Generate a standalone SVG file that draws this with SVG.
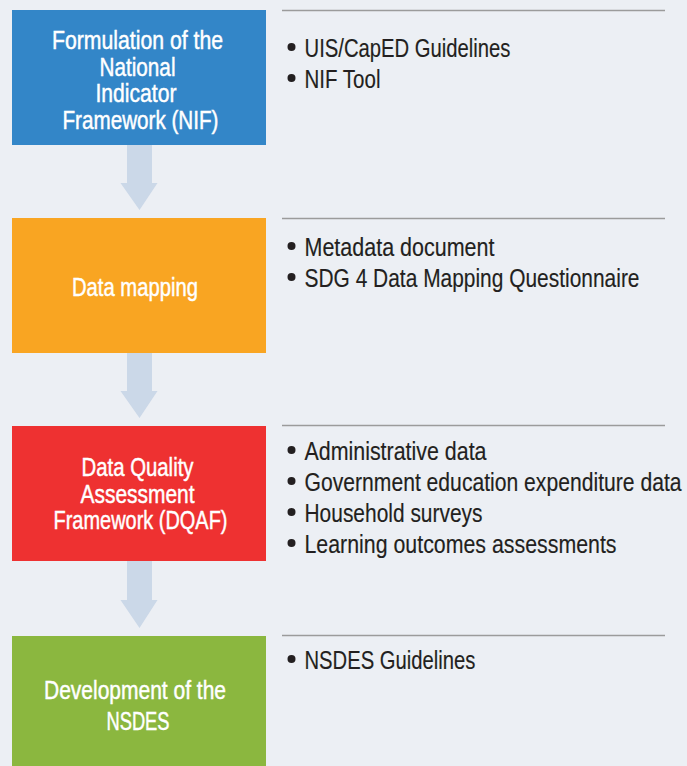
<svg xmlns="http://www.w3.org/2000/svg" width="687" height="766" viewBox="0 0 687 766">
<style>
  .bg { fill: #ECEFF4; }
  .bt { font-family: "Liberation Sans", Arial, sans-serif; font-size: 25px; fill: #FFFFFF; stroke: #FFFFFF; stroke-width: 0.45; text-anchor: middle; }
  .lt { font-family: "Liberation Sans", Arial, sans-serif; font-size: 25px; fill: #231F20; stroke: #231F20; stroke-width: 0.15; }
  .rule { stroke: #9B9B9B; stroke-width: 1.5; fill: none; }
  .dot { fill: #231F20; }
  .arrow { fill: #CBD8E8; }
</style>
<rect class="bg" x="0" y="0" width="687" height="766"/>

<g id="connectors">
  <path class="arrow" d="M127,145 H152 V183 H157.5 L139.5,210 L120.5,183 H127 Z"/>
  <path class="arrow" d="M127,353 H152 V391 H157.5 L139.5,418 L120.5,391 H127 Z"/>
  <path class="arrow" d="M127,561 H152 V600 H157.5 L139.5,628 L120.5,600 H127 Z"/>
</g>

<g id="node-nif">
  <rect x="12" y="10" width="254" height="135" fill="#3386C8"/>
  <text class="bt" x="137.5" y="49" textLength="171" lengthAdjust="spacingAndGlyphs">Formulation of the</text>
  <text class="bt" x="137.5" y="75.5" textLength="76" lengthAdjust="spacingAndGlyphs">National</text>
  <text class="bt" x="136" y="102" textLength="81" lengthAdjust="spacingAndGlyphs">Indicator</text>
  <text class="bt" x="140.5" y="128.5" textLength="156" lengthAdjust="spacingAndGlyphs">Framework (NIF)</text>
</g>

<g id="node-mapping">
  <rect x="12" y="218" width="254" height="135" fill="#F9A522"/>
  <text class="bt" x="135" y="296" textLength="126" lengthAdjust="spacingAndGlyphs">Data mapping</text>
</g>

<g id="node-dqaf">
  <rect x="12" y="426" width="254" height="135" fill="#EE3131"/>
  <text class="bt" x="137.5" y="476" textLength="112" lengthAdjust="spacingAndGlyphs">Data Quality</text>
  <text class="bt" x="137.5" y="502.5" textLength="114" lengthAdjust="spacingAndGlyphs">Assessment</text>
  <text class="bt" x="140.5" y="529" textLength="174" lengthAdjust="spacingAndGlyphs">Framework (DQAF)</text>
</g>

<g id="node-nsdes">
  <rect x="12" y="636" width="254" height="135" fill="#8BB73F"/>
  <text class="bt" x="135" y="699" textLength="182" lengthAdjust="spacingAndGlyphs">Development of the</text>
  <text class="bt" x="138" y="730" textLength="63" lengthAdjust="spacingAndGlyphs">NSDES</text>
</g>

<g id="list-nif">
  <line class="rule" x1="282" y1="10.5" x2="665" y2="10.5"/>
  <circle class="dot" cx="291.5" cy="47" r="4"/>
  <text class="lt" x="304.5" y="56.5" textLength="206" lengthAdjust="spacingAndGlyphs">UIS/CapED Guidelines</text>
  <circle class="dot" cx="291.5" cy="78" r="4"/>
  <text class="lt" x="304.5" y="87.5" textLength="76" lengthAdjust="spacingAndGlyphs">NIF Tool</text>
</g>

<g id="list-mapping">
  <line class="rule" x1="282" y1="218.5" x2="665" y2="218.5"/>
  <circle class="dot" cx="291.5" cy="246" r="4"/>
  <text class="lt" x="304.5" y="255.5" textLength="190" lengthAdjust="spacingAndGlyphs">Metadata document</text>
  <circle class="dot" cx="291.5" cy="277" r="4"/>
  <text class="lt" transform="translate(304.5,286.5) scale(0.84,1)" x="0" y="0" textLength="398.8" lengthAdjust="spacingAndGlyphs">SDG 4 Data Mapping Questionnaire</text>
</g>

<g id="list-dqaf">
  <line class="rule" x1="282" y1="425.5" x2="665" y2="425.5"/>
  <circle class="dot" cx="291.5" cy="450" r="4"/>
  <text class="lt" x="304.5" y="459.5" textLength="182" lengthAdjust="spacingAndGlyphs">Administrative data</text>
  <circle class="dot" cx="291.5" cy="481" r="4"/>
  <text class="lt" transform="translate(304.5,490.5) scale(0.82,1)" x="0" y="0" textLength="459.8" lengthAdjust="spacingAndGlyphs">Government education expenditure data</text>
  <circle class="dot" cx="291.5" cy="512" r="4"/>
  <text class="lt" x="304.5" y="521.5" textLength="178" lengthAdjust="spacingAndGlyphs">Household surveys</text>
  <circle class="dot" cx="291.5" cy="543" r="4"/>
  <text class="lt" x="304.5" y="552.5" textLength="312" lengthAdjust="spacingAndGlyphs">Learning outcomes assessments</text>
</g>

<g id="list-nsdes">
  <line class="rule" x1="282" y1="635.5" x2="665" y2="635.5"/>
  <circle class="dot" cx="291.5" cy="659" r="4"/>
  <text class="lt" x="304.5" y="668.5" textLength="171" lengthAdjust="spacingAndGlyphs">NSDES Guidelines</text>
</g>
</svg>
